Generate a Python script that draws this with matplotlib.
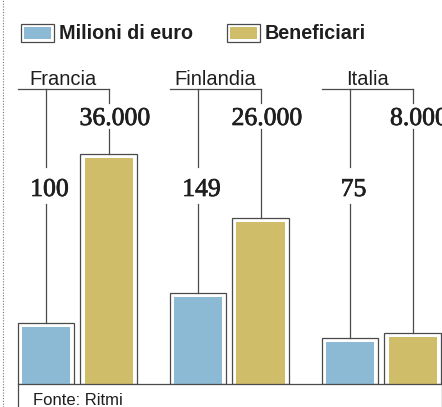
import matplotlib
matplotlib.use('Agg')
import matplotlib.pyplot as plt
import matplotlib.patheffects as pe
from matplotlib.patches import Rectangle
from matplotlib.lines import Line2D

# data
paesi = ['Francia', 'Finlandia', 'Italia']
milioni = [100, 149, 75]          # milioni di euro
beneficiari = [36000, 26000, 8000]
legenda = ['Milioni di euro', 'Beneficiari']
fonte = 'Fonte: Ritmi'

blu = '#8cb9d4'
oro = '#cfbd6a'
bordo = '#4a4a4a'
testo = '#1e1e1e'
sans = ['Liberation Sans', 'DejaVu Sans']
serif = ['Liberation Serif', 'DejaVu Serif']

W, H = 442, 407
base = 384          # baseline, px from top
step = 152.0        # px between groups


def fx(x):
    return x / W


def fy(y):
    return 1 - y / H


def fmt(v):
    return f'{v:,}'.replace(',', '.')


fig = plt.figure(figsize=(W / 100, H / 100), dpi=100)
ax = fig.add_axes([0, (H - base) / H, 1, base / H])
ax2 = ax.twinx()
for a in (ax, ax2):
    a.set_axis_off()
ax.set_xlim(-46 / step, (W - 46) / step)
ax.set_ylim(0, 630)
ax2.set_ylim(0, 60000)

bpp = 630 / base      # blue units per px
gpp = 60000 / base    # gold units per px
w_out = 56.5 / step
w_in = 48 / step
off = 62.5 / step
xb = [i for i in range(len(paesi))]
xg = [i + off for i in range(len(paesi))]

# bars: outer frame + inner fill
ax.bar(xb, milioni, width=w_out, color='white', edgecolor=bordo, linewidth=0.9, zorder=2)
ax.bar(xb, [v - 4 * bpp for v in milioni], width=w_in, color=blu, linewidth=0, zorder=3)
ax2.bar(xg, beneficiari, width=w_out, color='white', edgecolor=bordo, linewidth=0.9, zorder=2)
ax2.bar(xg, [v - 4 * gpp for v in beneficiari], width=w_in, color=oro, linewidth=0, zorder=3)

bold_num = [pe.withStroke(linewidth=0.5, foreground=testo)]

top_y = 89
for i, p in enumerate(paesi):
    # horizontal leader
    ax.plot([xb[i] - w_out / 2, xg[i]], [(base - top_y) * bpp] * 2, color=bordo, lw=0.9)
    ax.text((xb[i] - w_out / 2 + xg[i]) / 2, (base - 85) * bpp, p, ha='center', va='baseline',
            fontsize=14.5, family=sans, color=testo)
    # blue leader + value
    ax.plot([xb[i]] * 2, [(base - top_y) * bpp, (base - 167) * bpp], color=bordo, lw=0.9)
    ax.plot([xb[i]] * 2, [(base - 204) * bpp, milioni[i]], color=bordo, lw=0.9)
    ax.text(xb[i] + 3.5 / step, (base - 196) * bpp, fmt(milioni[i]), ha='center', va='baseline',
            fontsize=18.5, family=serif, color=testo, path_effects=bold_num)
    # gold leader + value
    ax2.plot([xg[i]] * 2, [(base - top_y) * gpp, (base - 103) * gpp], color=bordo, lw=0.9)
    ax2.plot([xg[i]] * 2, [(base - 129) * gpp, beneficiari[i]], color=bordo, lw=0.9)
    ax2.text(xg[i] + 6.5 / step, (base - 125) * gpp, fmt(beneficiari[i]), ha='center', va='baseline',
             fontsize=18.5, family=serif, color=testo, path_effects=bold_num)

# legend
for (x0, col, lab) in [(21, blu, legenda[0]), (227, oro, legenda[1])]:
    fig.add_artist(Rectangle((fx(x0), fy(42)), 33 / W, 18 / H, transform=fig.transFigure,
                             facecolor='white', edgecolor=bordo, linewidth=0.9))
    fig.add_artist(Rectangle((fx(x0 + 3), fy(39)), 27 / W, 12 / H, transform=fig.transFigure,
                             facecolor=col, edgecolor='none'))
    fig.text(fx(x0 + 38), fy(39), lab, ha='left', va='baseline', fontsize=14.2,
             fontweight='bold', family=sans, color=testo)

# baseline and source box
fig.add_artist(Line2D([fx(17.5), fx(441.5)], [fy(base), fy(base)], color=bordo, lw=0.9))
fig.add_artist(Line2D([fx(17.5), fx(17.5)], [fy(base), 0], color=bordo, lw=0.9))
fig.add_artist(Line2D([fx(441.5), fx(441.5)], [fy(base), 0], color=bordo, lw=0.9))
fig.text(fx(33), fy(405), fonte, ha='left', va='baseline', fontsize=12, family=sans, color=testo)

# dotted margin line
fig.add_artist(Line2D([fx(3), fx(3)], [0, 1], color='#777777', lw=0.8, linestyle=(0, (1, 1.5))))

fig.savefig('out.png', dpi=100)
